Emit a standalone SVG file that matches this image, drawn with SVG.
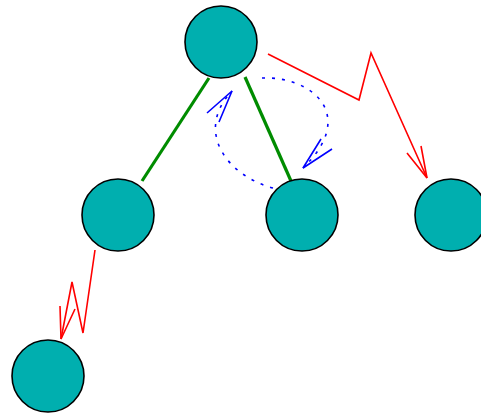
<svg xmlns="http://www.w3.org/2000/svg" width="481" height="413" viewBox="0 0 481 413">
<style>
.node{fill:#00AFAF;stroke:#000;stroke-width:1.6}
.tree{stroke:#008C00;stroke-width:3.2;fill:none}
.red{stroke:#FF0000;stroke-width:1.6;fill:none}
.blue{stroke:#0000FF;stroke-width:1.6;fill:none}
.dot{stroke-dasharray:3 7}
</style>
<rect width="481" height="413" fill="#fff"/>
<g id="connectors">
<line class="tree" x1="209" y1="78" x2="142" y2="181"/>
<line class="tree" x1="245" y1="77" x2="291" y2="181"/>
<polyline class="red" points="268,54 359,100 371,53 427,178"/>
<polyline class="red" points="407,153 427,178 421,146"/>
<polyline class="red" points="95,250 83,333 72,282 61,339"/>
<polyline class="red" points="60,306 61,339 75,309"/>
<path class="blue dot" d="M262,78 C312,76 358,115 303,168"/>
<polyline class="blue" points="332,149 303,168 321,139"/>
<path class="blue dot" d="M273,188 C225,175 195,130 232,91"/>
<polyline class="blue" points="207,113 232,91 219,122"/>
</g>
<g id="n0"><circle class="node" cx="221" cy="42" r="36"/></g>
<g id="n1"><circle class="node" cx="118" cy="215" r="36"/></g>
<g id="n2"><circle class="node" cx="302" cy="215" r="36"/></g>
<g id="n3"><circle class="node" cx="451" cy="215" r="36"/></g>
<g id="n4"><circle class="node" cx="48" cy="376" r="36"/></g>
</svg>
